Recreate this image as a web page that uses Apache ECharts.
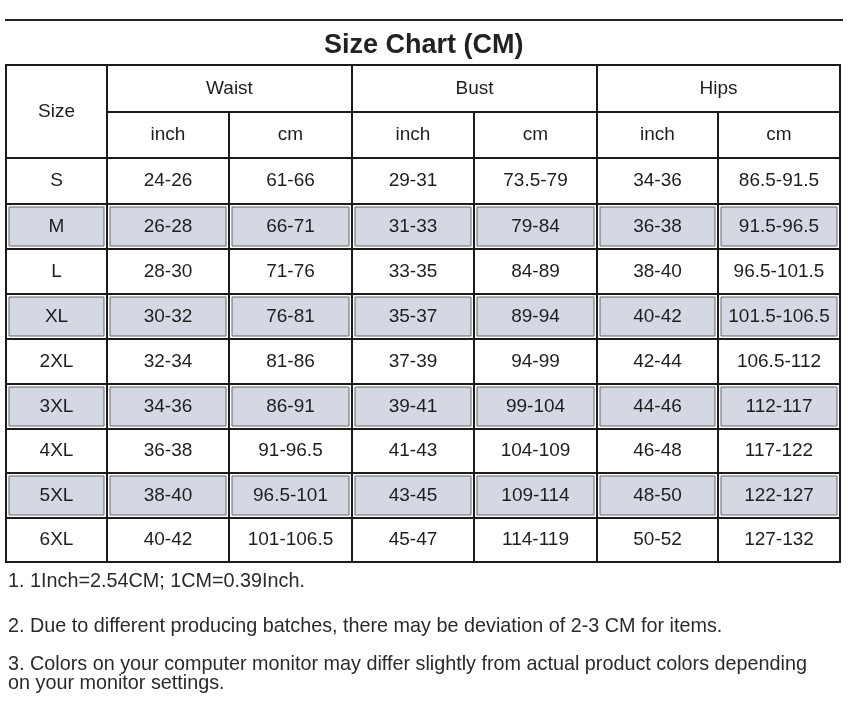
<!DOCTYPE html>
<html><head><meta charset="utf-8">
<script src="https://cdn.jsdelivr.net/npm/echarts@6/dist/echarts.min.js"></script>
<style>html,body{margin:0;padding:0;background:#fff}#c{width:853px;height:726px}</style>
</head><body><div id="c"></div>
<script>
// ---- data ----
const chartTitle = 'Size Chart (CM)';
const measures = ['Waist', 'Bust', 'Hips'];
const units = ['inch', 'cm'];
const sizeHeader = 'Size';
const sizes = ['S', 'M', 'L', 'XL', '2XL', '3XL', '4XL', '5XL', '6XL'];
const waistInch = ['24-26', '26-28', '28-30', '30-32', '32-34', '34-36', '36-38', '38-40', '40-42'];
const waistCm = ['61-66', '66-71', '71-76', '76-81', '81-86', '86-91', '91-96.5', '96.5-101', '101-106.5'];
const bustInch = ['29-31', '31-33', '33-35', '35-37', '37-39', '39-41', '41-43', '43-45', '45-47'];
const bustCm = ['73.5-79', '79-84', '84-89', '89-94', '94-99', '99-104', '104-109', '109-114', '114-119'];
const hipsInch = ['34-36', '36-38', '38-40', '40-42', '42-44', '44-46', '46-48', '48-50', '50-52'];
const hipsCm = ['86.5-91.5', '91.5-96.5', '96.5-101.5', '101.5-106.5', '106.5-112', '112-117', '117-122', '122-127', '127-132'];
const notes = [
  '1. 1Inch=2.54CM; 1CM=0.39Inch.',
  '2. Due to different producing batches, there may be deviation of 2-3 CM for items.',
  '3. Colors on your computer monitor may differ slightly from actual product colors depending',
  'on your monitor settings.'
];

// ---- layout (relative column / row sizes) ----
const colW = [101, 122, 123, 122, 123, 121, 122];
const rowH = [47, 46, 46, 45, 45, 45, 45, 45, 44, 45, 44];
const noteY = [582, 627, 665, 684];
const colEdge = [0]; colW.forEach(w => colEdge.push(colEdge[colEdge.length - 1] + w));
const rowEdge = [0]; rowH.forEach(h => rowEdge.push(rowEdge[rowEdge.length - 1] + h));
const FONT = '"Liberation Sans", Arial, sans-serif';

// ---- build cells ----
const cells = []; // [c0, c1, r0, r1, text, shade]
cells.push([0, 1, 0, 2, sizeHeader, 0]);
measures.forEach((m, i) => {
  cells.push([1 + 2 * i, 3 + 2 * i, 0, 1, m, 0]);
  units.forEach((u, j) => cells.push([1 + 2 * i + j, 2 + 2 * i + j, 1, 2, u, 0]));
});
const columns = [sizes, waistInch, waistCm, bustInch, bustCm, hipsInch, hipsCm];
sizes.forEach((s, r) => columns.forEach((col, c) => cells.push([c, c + 1, r + 2, r + 3, col[r], r % 2])));
const seriesData = cells.map(d => [colEdge[d[0]], colEdge[d[1]], rowEdge[d[2]], rowEdge[d[3]], d[5]]);

const chart = echarts.init(document.getElementById('c'));
chart.setOption({
  backgroundColor: '#fff',
  animation: false,
  title: {
    text: chartTitle, left: 319, top: 27,
    textStyle: { fontFamily: FONT, fontSize: 27, fontWeight: 'bold', color: '#222' }
  },
  grid: { left: 6, top: 65, width: colEdge[colEdge.length - 1], height: rowEdge[rowEdge.length - 1] },
  xAxis: { type: 'value', min: 0, max: colEdge[colEdge.length - 1], show: false },
  yAxis: { type: 'value', min: 0, max: rowEdge[rowEdge.length - 1], inverse: true, show: false },
  graphic: [
    { type: 'line', shape: { x1: 5, y1: 20, x2: 843, y2: 20 }, style: { stroke: '#222', lineWidth: 2 } }
  ].concat(notes.map((t, i) => ({
    type: 'text', x: 8, y: noteY[i],
    style: { text: t, x: 0, y: 0, verticalAlign: 'middle', fontFamily: FONT, fontSize: 19.8, fill: '#2a2a2a' }
  }))),
  series: [{
    type: 'custom',
    coordinateSystem: 'cartesian2d',
    encode: { x: [0, 1], y: [2, 3] },
    data: seriesData,
    renderItem: function (params, api) {
      const p0 = api.coord([api.value(0), api.value(2)]);
      const p1 = api.coord([api.value(1), api.value(3)]);
      const x = p0[0], y = Math.min(p0[1], p1[1]);
      const w = p1[0] - p0[0], h = Math.abs(p1[1] - p0[1]);
      const shade = api.value(4);
      const children = [{
        type: 'rect', shape: { x: x, y: y, width: w, height: h },
        style: { fill: '#fff', stroke: '#1c1c1c', lineWidth: 2 }
      }];
      if (shade) {
        children.push({
          type: 'rect', shape: { x: x + 3, y: y + 3, width: w - 6, height: h - 6 },
          style: { fill: '#d4d8e2', stroke: '#666', lineWidth: 1 }
        });
      }
      children.push({
        type: 'text',
        style: {
          text: cells[params.dataIndex][4], x: x + w / 2, y: y + h / 2,
          align: 'center', verticalAlign: 'middle',
          fontFamily: FONT, fontSize: 19, fill: '#1e1e1e'
        }
      });
      return { type: 'group', children: children };
    }
  }]
});
</script>
</body></html>
